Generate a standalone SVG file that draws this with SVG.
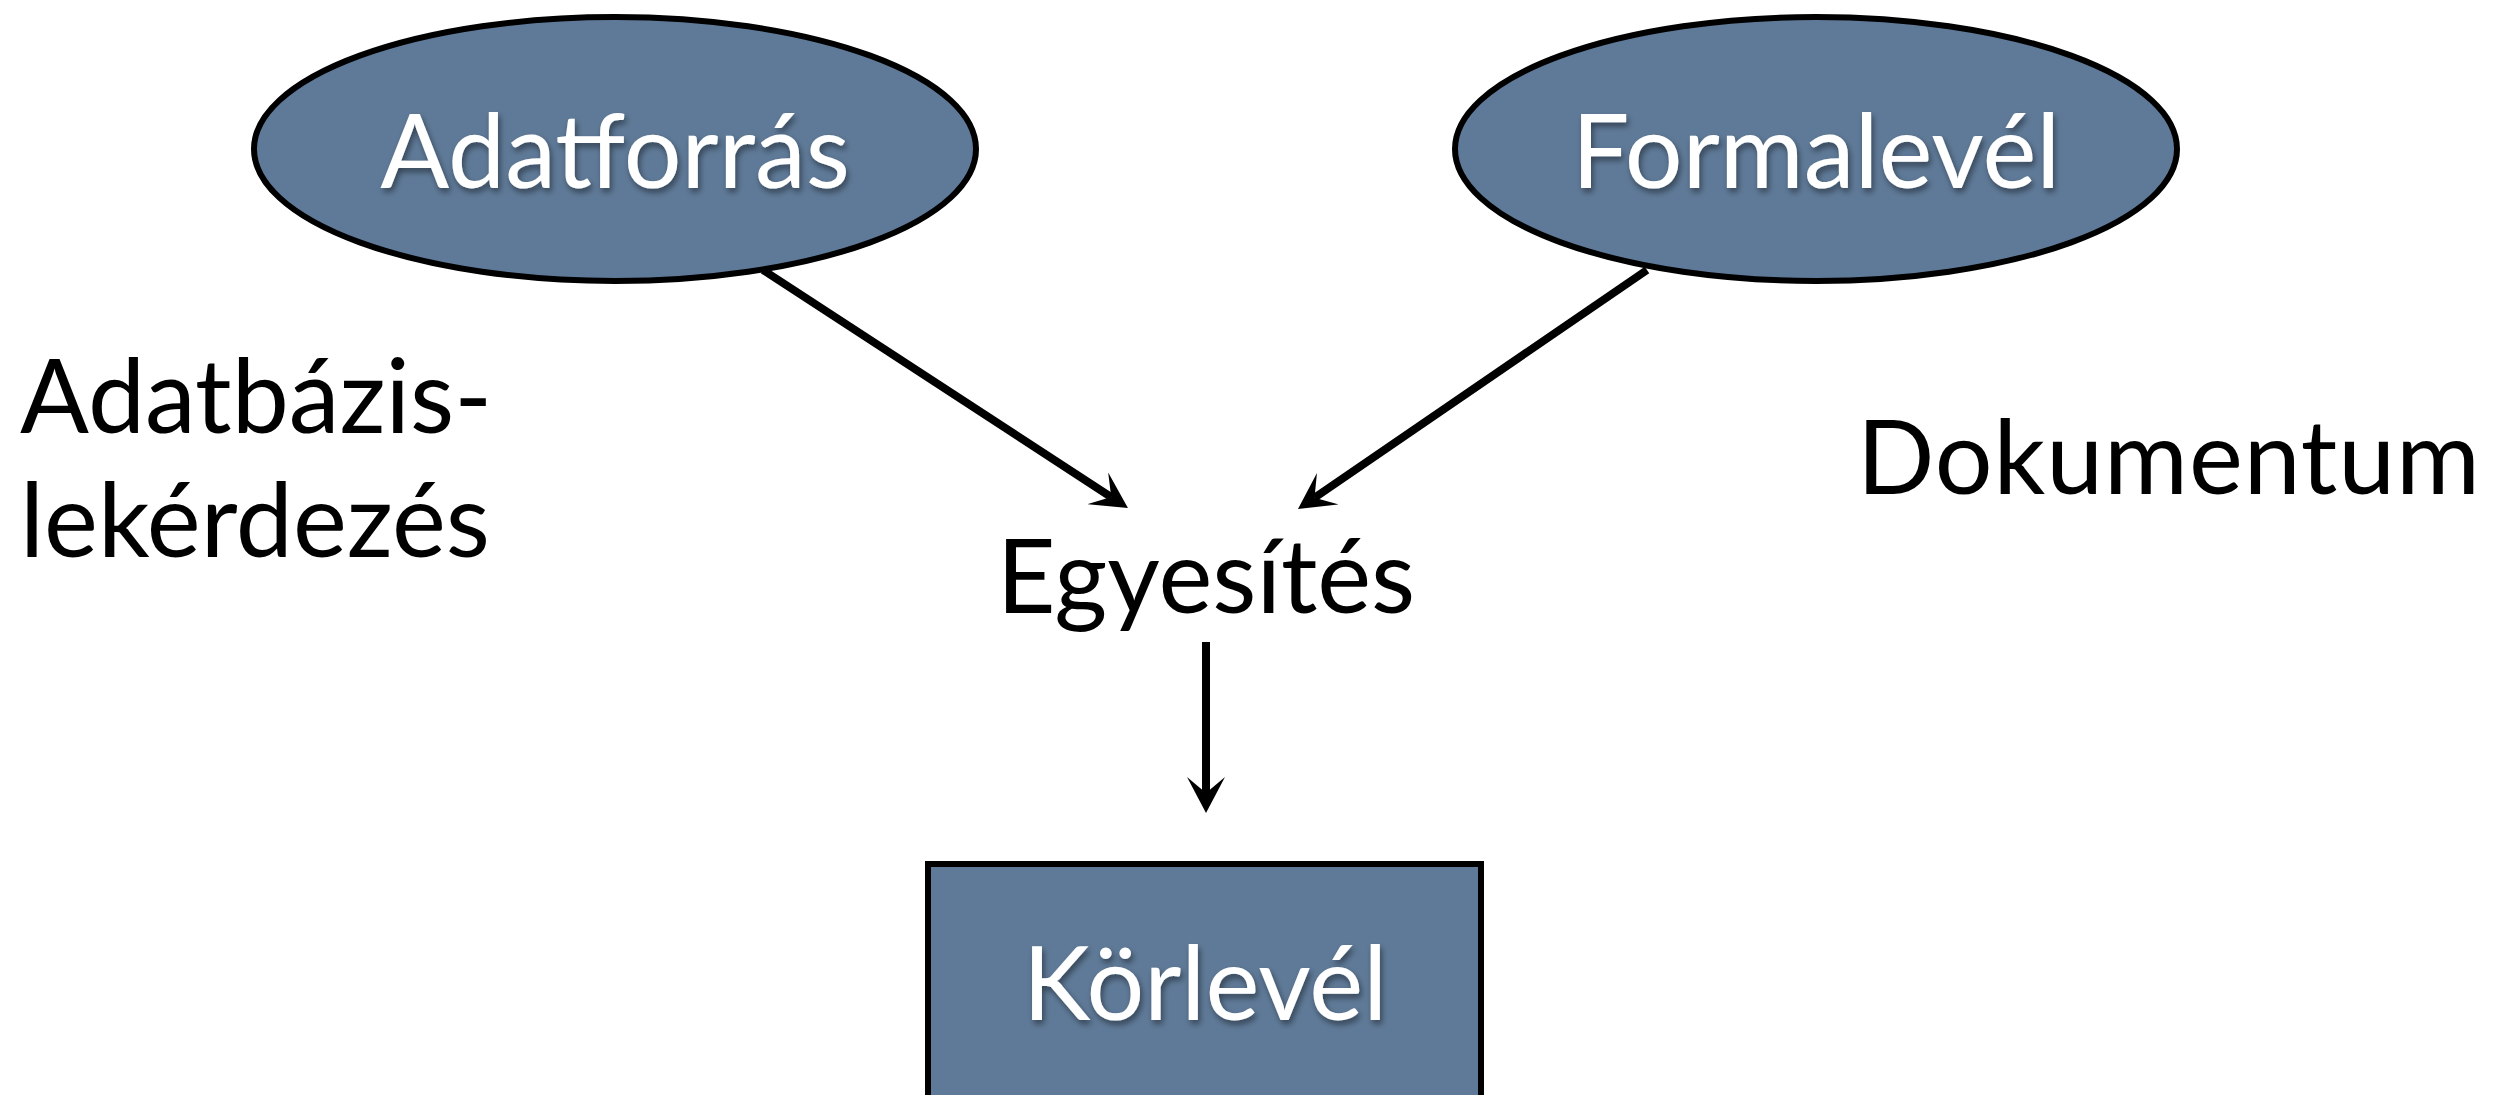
<svg xmlns="http://www.w3.org/2000/svg" width="2515" height="1095" viewBox="0 0 2515 1095">
  <style>
    .node { fill: #5f7a98; stroke: #000; stroke-width: 6; }
    .inner { font-family: Lato, "Open Sans", sans-serif; font-size: 102px; fill: #fff; text-anchor: middle; filter: url(#shadow); }
    .label { font-family: Lato, "Open Sans", sans-serif; font-size: 102px; fill: #000; }
    .edge { stroke: #000; stroke-width: 8; fill: none; marker-end: url(#head); }
  </style>
  <defs>
    <filter id="shadow" x="-10%" y="-20%" width="120%" height="150%">
      <feDropShadow dx="2" dy="4" stdDeviation="3" flood-color="#000" flood-opacity="0.45"/>
    </filter>
    <!-- barbed head; reference point sits in the notch so the shaft ends inside it -->
    <marker id="head" viewBox="0 0 36 38" refX="16" refY="19" markerWidth="36" markerHeight="38" markerUnits="userSpaceOnUse" orient="auto">
      <path d="M0,0 L36,19 L0,38 L16,19 Z" fill="#000"/>
    </marker>
  </defs>
  <rect width="2515" height="1095" fill="#fff"/>

  <g id="adatforras">
    <ellipse class="node" cx="615" cy="149" rx="361" ry="132"/>
    <text class="inner" x="615" y="188">Adatforrás</text>
  </g>

  <g id="formalevel">
    <ellipse class="node" cx="1816" cy="149" rx="361" ry="132"/>
    <text class="inner" x="1816" y="188">Formalevél</text>
  </g>

  <g id="egyesites">
    <text class="label" x="1206" y="613" text-anchor="middle">Egyesítés</text>
  </g>

  <g id="korlevel">
    <rect class="node" x="928" y="864" width="553" height="240"/>
    <text class="inner" x="1205" y="1020">Körlevél</text>
  </g>

  <g id="adatbazis-lekerdezes">
    <text class="label" x="20" y="433">Adatbázis-</text>
    <text class="label" x="20" y="557">lekérdezés</text>
  </g>

  <g id="dokumentum">
    <text class="label" x="1857" y="494" textLength="623" lengthAdjust="spacing">Dokumentum</text>
  </g>

  <g id="connectors">
    <line class="edge" x1="763" y1="270" x2="1111.2" y2="497.1"/>
    <line class="edge" x1="1647" y1="270" x2="1314.5" y2="497.7"/>
    <line class="edge" x1="1206" y1="642" x2="1206" y2="793"/>
  </g>
</svg>
